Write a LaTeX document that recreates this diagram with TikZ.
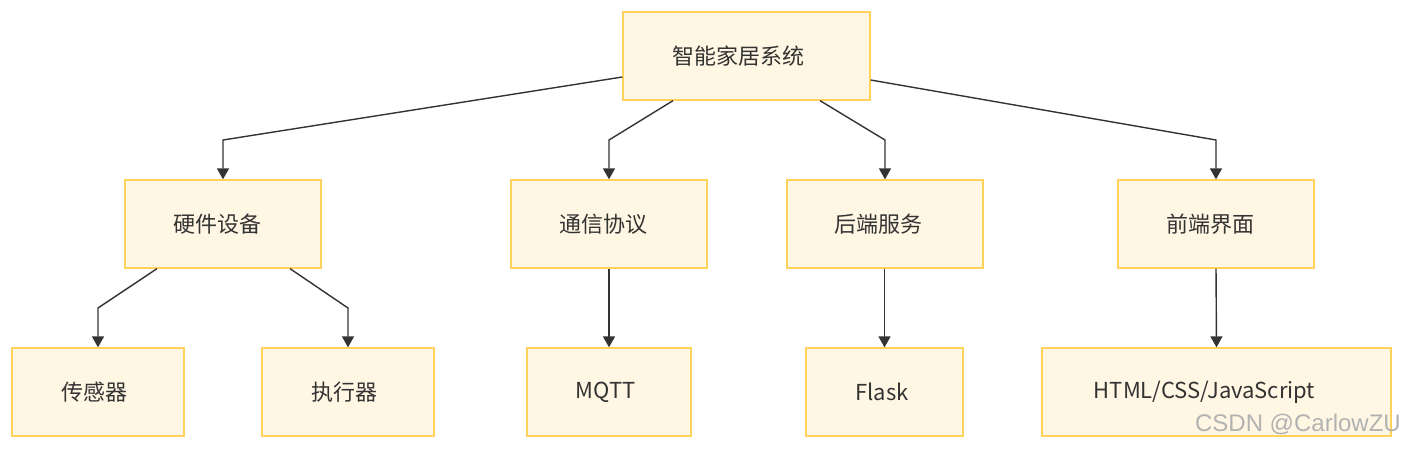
\documentclass[tikz,border=0pt]{standalone}
\usepackage{fontspec}
\setmainfont{Noto Sans CJK SC}
\newfontfamily\wmfont{Liberation Sans}
\usetikzlibrary{arrows.meta}
\definecolor{boxfill}{HTML}{FFF7E4}
\definecolor{boxline}{HTML}{FFD25C}
\definecolor{ink}{HTML}{333333}
\newcommand\lsh[1]{\hspace*{-#1pt}}
\tikzset{
  box/.style={draw=boxline, fill=boxfill, line width=1.3pt, inner sep=0pt,
    minimum height=88pt, text=ink, font=\fontsize{22pt}{26pt}\selectfont},
  arr/.style={draw=ink, line width=1.4pt, -{Triangle[width=12pt,length=11pt]}}
}
\begin{document}
\begin{tikzpicture}[x=1pt,y=-1pt]
\useasboundingbox (0,0) rectangle (1404,450);
\node[box, minimum width=247pt] (root) at (746.5,56) {\lsh{16}智能家居系统};
\node[box, minimum width=196pt] (hw) at (223,224) {\lsh{12}硬件设备};
\node[box, minimum width=196pt] (comm) at (609,224) {\lsh{12}通信协议};
\node[box, minimum width=196pt] (back) at (885,224) {\lsh{13}后端服务};
\node[box, minimum width=196pt] (front) at (1216,224) {\lsh{12}前端界面};
\node[box, minimum width=172pt] (sens) at (98,392) {\lsh{8}传感器};
\node[box, minimum width=172pt] (act) at (348,392) {\lsh{8}执行器};
\node[box, minimum width=164pt] (mqtt) at (609,392) {\lsh{7}MQTT};
\node[box, minimum width=157pt] (flask) at (884.5,392) {\lsh{5}Flask};
\node[box, minimum width=349pt] (web) at (1216.5,392) {\lsh{24}HTML/CSS/JavaScript};
\draw[arr] ([yshift=-21pt]root.west) -- (hw.north |- 0,140) -- (hw.north);
\draw[arr] ([xshift=-73.5pt]root.south) -- (comm.north |- 0,140) -- (comm.north);
\draw[arr] ([xshift=73.5pt]root.south) -- (back.north |- 0,140) -- (back.north);
\draw[arr] ([yshift=-24pt]root.east) -- (front.north |- 0,140) -- (front.north);
\draw[arr] ([xshift=-66pt]hw.south) -- (sens.north |- 0,308) -- (sens.north);
\draw[arr] ([xshift=67pt]hw.south) -- (act.north |- 0,308) -- (act.north);
\draw[arr] (comm.south) -- (mqtt.north);
\draw[arr] (back.south -| flask.north) -- (flask.north);
\draw[arr] (front.south) -- (web.north);
\node[anchor=east, text=black!30, font=\wmfont\fontsize{24pt}{28pt}\selectfont, inner sep=0pt] (wm) at (1401,424) {CSDN @CarlowZU};
\end{tikzpicture}
\end{document}
